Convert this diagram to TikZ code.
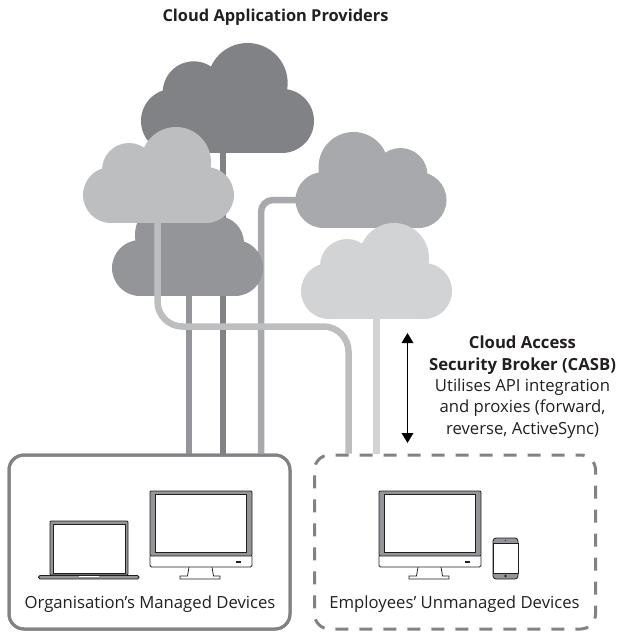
\documentclass[tikz,border=0pt]{standalone}
\usepackage{fontspec}
\setmainfont{Open Sans}
\usetikzlibrary{arrows.meta}
\definecolor{greyA}{HTML}{808285}
\definecolor{greyB}{HTML}{BCBEC0}
\definecolor{greyC}{HTML}{939598}
\definecolor{greyD}{HTML}{A7A9AC}
\definecolor{greyE}{HTML}{D1D3D4}
\definecolor{inkline}{HTML}{231F20}
\tikzset{
    devicebox/.style={draw=greyA,line width=3pt,rounded corners=15pt,minimum width=281pt,minimum height=174pt,inner sep=0pt},
    pipe/.style={line width=6.5pt},
    caption/.style={anchor=base,inner sep=0pt,font=\fontsize{16.7}{21.3}\selectfont,text=inkline},
    pics/cloudshape/.style={code={
        \fill[#1] (-47.5,-28) circle (28);
        \fill[#1] (47.5,-28) circle (28);
        \fill[#1] (-29.5,-53) circle (27);
        \fill[#1] (17.5,-61) circle (35);
        \fill[#1] (-47.5,0) rectangle (47.5,-45);
    }},
    pics/monitorshape/.style={code={
        \draw[draw=inkline,line width=.8pt,fill=white] (39,76) -- (37.5,85) -- (30,85) -- (30,88) -- (70,88) -- (70,85) -- (63.5,85) -- (62,76);
        \draw[draw=inkline,line width=.8pt,fill=white,rounded corners=1.5pt] (0,65) -- (0,76) -- (102,76) -- (102,65);
        \draw[draw=inkline,line width=.8pt,fill=greyC,rounded corners=1pt] (0,65) rectangle (102,0);
        \fill[white] (5,3) rectangle (96,61);
        \draw[draw=inkline,line width=.6pt] (5,3) rectangle (96,61);
        \fill[inkline] (86,70) rectangle (91,72);
    }}
}
\begin{document}
\begin{tikzpicture}[x=1pt,y=-1pt]
    \useasboundingbox (0,0) rectangle (624,634);

    \node[devicebox] (managed) at (149.5,542) {};
    \node[devicebox,draw=none] (unmanaged) at (455,542) {};

    \coordinate (footA) at (223,150);
    \coordinate (footB) at (157.5,220);
    \coordinate (footC) at (189,293);
    \coordinate (footD) at (298,200);
    \coordinate (footE) at (376.5,316);

    % pipes behind the clouds
    \draw[pipe,greyA] (footA) -- (footA |- managed.north);
    \draw[pipe,greyC] (footC) -- (footC |- managed.north);
    \draw[pipe,greyD,rounded corners=12pt] (footD) -- (261,200) -- (261,200 |- managed.north);
    \draw[pipe,greyE] (footE) -- (footE |- unmanaged.north);

    \pic[scale=1.146] at (227.5,153) {cloudshape=greyA};
    \pic[xscale=-1] at (187.5,296) {cloudshape=greyC};
    \pic[xscale=-1] at (371,228) {cloudshape=greyD};
    \pic at (376.5,319) {cloudshape=greyE};

    \draw[pipe,greyB,rounded corners=25pt] (footB) -- (157.5,326.5) -- (348.5,326.5) -- (348.5,326.5 |- unmanaged.north);
    \pic at (158.5,223) {cloudshape=greyB};

    \node[devicebox] at (149.5,542) {};
    \node[devicebox,dash pattern=on 13pt off 11pt,dash phase=8pt] at (455,542) {};

    % devices
    \pic at (150,491) {monitorshape};
    \pic at (379,491) {monitorshape};

    \draw[draw=inkline,line width=.8pt,fill=greyC,rounded corners=1pt] (50,575) rectangle (128,521);
    \draw[draw=inkline,line width=.6pt,fill=white] (53,524) rectangle (125,573);
    \draw[draw=inkline,line width=.8pt,fill=greyC,rounded corners=1.5pt] (38.5,575.5) rectangle (139,579);
    \fill[white] (79,575.8) rectangle (99,577.2);

    \draw[draw=inkline,line width=.8pt,fill=greyC,rounded corners=3pt] (493,538) rectangle (518,579);
    \draw[draw=inkline,line width=.6pt,fill=white] (493,543) rectangle (518,573);
    \fill[inkline] (505.5,540.5) circle (.6);
    \fill[inkline] (505.5,576) circle (1.3);

    % labels
    \node[caption,font=\fontsize{16.4}{18}\selectfont\bfseries] (title) at (275.5,22) {Cloud Application Providers};
    \node[caption] (managedtext) at (150,608) {Organisation’s Managed Devices};
    \node[caption] (unmanagedtext) at (454.5,608) {Employees’ Unmanaged Devices};
    \node[caption,align=center,anchor=north,text depth=0pt] (casb) at (522.5,336)
        {\textbf{Cloud Access}\\\textbf{Security Broker (CASB)}\\Utilises API integration\\and proxies (forward,\\reverse, ActiveSync)};

    \coordinate (brokertop) at (407.5,333);
    \coordinate (brokerbottom) at (407.5,443);
    \draw[{Triangle[length=10pt,width=11.5pt]}-{Triangle[length=10pt,width=11.5pt]},line width=1.8pt,black] (brokertop) -- (brokerbottom);
\end{tikzpicture}
\end{document}
